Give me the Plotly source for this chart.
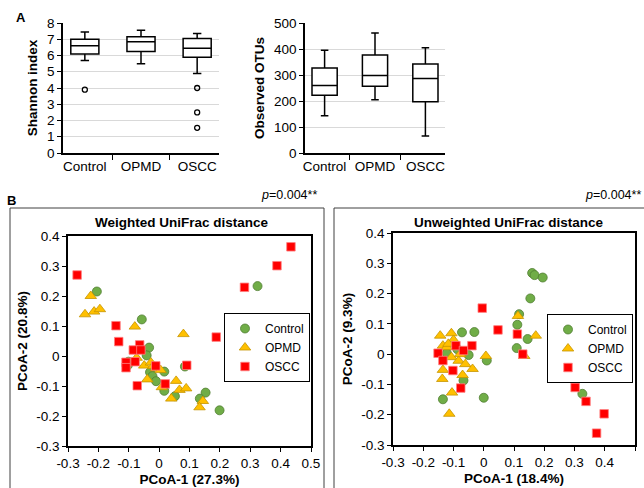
import plotly.graph_objects as go

W, H = 644, 488
FONT = "Liberation Sans, Arial, sans-serif"

# ---------------- Data ----------------
groups = ["Control", "OPMD", "OSCC"]

# Shannon index box statistics
shannon_lower = [5.7, 5.5, 4.9]
shannon_q1 = [6.1, 6.25, 5.9]
shannon_median = [6.6, 6.85, 6.45]
shannon_q3 = [7.0, 7.15, 7.05]
shannon_upper = [7.45, 7.55, 7.35]
shannon_outlier_group = ["Control", "OSCC", "OSCC", "OSCC"]
shannon_outlier_value = [3.9, 4.0, 2.5, 1.55]

# Observed OTUs box statistics
otu_lower = [143, 205, 65]
otu_q1 = [222, 257, 197]
otu_median = [260, 298, 287]
otu_q3 = [327, 377, 342]
otu_upper = [395, 462, 405]

# Weighted UniFrac PCoA
w_control_x = [-0.205, -0.057, 0.324, -0.033, -0.041, -0.101, -0.103, 0.017, -0.030,
               -0.022, -0.010, 0.017, 0.052, 0.085, 0.153, 0.134, 0.199]
w_control_y = [0.215, 0.122, 0.233, 0.028, 0.002, -0.019, -0.031, -0.052, -0.054,
               -0.067, -0.084, -0.116, -0.134, -0.035, -0.122, -0.142, -0.181]
w_opmd_x = [-0.225, -0.244, -0.214, -0.195, -0.080, 0.080, -0.074, -0.049, -0.027, -0.019,
            -0.010, 0.005, -0.039, 0.009, 0.056, 0.067, 0.089, 0.040, 0.144, 0.133]
w_opmd_y = [0.200, 0.139, 0.148, 0.156, 0.098, 0.073, -0.006, -0.032, -0.022, -0.033,
            -0.041, -0.047, -0.078, -0.104, -0.083, -0.113, -0.108, -0.142, -0.150, -0.171]
w_oscc_x = [-0.270, -0.142, -0.133, -0.064, -0.085, -0.060, -0.079, -0.109, -0.109,
            -0.011, -0.072, 0.020, 0.091, 0.188, 0.281, 0.388, 0.434]
w_oscc_y = [0.270, 0.101, 0.048, 0.037, 0.020, 0.020, -0.019, -0.021, -0.039,
            -0.033, -0.099, -0.093, -0.031, 0.063, 0.229, 0.301, 0.364]

# Unweighted UniFrac PCoA
u_control_x = [-0.072, -0.031, 0.111, 0.117, 0.154, 0.160, 0.168, 0.195, 0.145,
               0.109, -0.122, -0.087, -0.050, 0.010, -0.067, -0.135, 0.000, 0.326]
u_control_y = [0.072, 0.073, 0.097, 0.132, 0.184, 0.268, 0.261, 0.253, 0.050,
               0.020, 0.003, 0.016, -0.003, -0.021, -0.087, -0.149, -0.144, -0.131]
u_opmd_x = [-0.144, -0.107, -0.100, -0.135, -0.122, -0.117, -0.107, -0.083, -0.061, -0.078,
            0.007, 0.134, 0.113, 0.172, -0.135, -0.037, -0.070, -0.137, -0.105, -0.114]
u_opmd_y = [0.061, 0.069, 0.047, 0.028, 0.023, 0.034, -0.010, -0.022, -0.033, 0.000,
            -0.006, -0.006, 0.126, 0.061, -0.052, -0.049, -0.069, -0.082, -0.127, -0.197]
u_oscc_x = [-0.005, 0.047, 0.111, 0.129, -0.151, -0.135, -0.092, -0.067, -0.039,
            -0.102, -0.076, 0.302, 0.338, 0.398, 0.373]
u_oscc_y = [0.152, 0.080, 0.066, 0.000, 0.003, -0.021, 0.028, 0.012, 0.028,
            -0.054, -0.112, -0.110, -0.156, -0.197, -0.261]

pcoa_ticks = [-0.3, -0.2, -0.1, 0, 0.1, 0.2, 0.3, 0.4, 0.5]
pcoa_ticklabels = ["-0.3", "-0.2", "-0.1", "0", "0.1", "0.2", "0.3", "0.4", "0.5"]
pcoa_yticks = [-0.3, -0.2, -0.1, 0, 0.1, 0.2, 0.3, 0.4]
pcoa_yticklabels = ["-0.3", "-0.2", "-0.1", "0", "0.1", "0.2", "0.3", "0.4"]

# ---------------- helpers ----------------
def px(x):
    return x / W

def py(y):
    return 1 - y / H

fig = go.Figure()

box_style = dict(fillcolor="white", line=dict(color="black", width=1.5),
                 width=0.5, whiskerwidth=0.3, boxpoints=False, showlegend=False,
                 hoverinfo="skip")

fig.add_trace(go.Box(x=groups, q1=shannon_q1, median=shannon_median, q3=shannon_q3,
                     lowerfence=shannon_lower, upperfence=shannon_upper,
                     xaxis="x", yaxis="y", **box_style))
fig.add_trace(go.Scatter(x=shannon_outlier_group, y=shannon_outlier_value, mode="markers",
                         marker=dict(symbol="circle-open", size=5, color="black",
                                     line=dict(width=1.3, color="black")),
                         xaxis="x", yaxis="y", showlegend=False))
fig.add_trace(go.Box(x=groups, q1=otu_q1, median=otu_median, q3=otu_q3,
                     lowerfence=otu_lower, upperfence=otu_upper,
                     xaxis="x2", yaxis="y2", **box_style))

GREEN = "#70AD47"
GREEN_E = "#507E32"
YEL = "#FFC000"
YEL_E = "#C59400"
RED = "#FF0000"
RED_E = "#FF7F7F"

def mk(kind):
    if kind == "Control":
        return dict(symbol="circle", size=9, color=GREEN, line=dict(color=GREEN_E, width=0.8))
    if kind == "OPMD":
        return dict(symbol="triangle-up", size=10, color=YEL, line=dict(color=YEL_E, width=0.8))
    return dict(symbol="square", size=8.5, color=RED, line=dict(color=RED_E, width=0.8))

for name, xs, ys in [("Control", w_control_x, w_control_y),
                     ("OPMD", w_opmd_x, w_opmd_y),
                     ("OSCC", w_oscc_x, w_oscc_y)]:
    fig.add_trace(go.Scatter(x=xs, y=ys, mode="markers", name=name, marker=mk(name),
                             xaxis="x3", yaxis="y3", legend="legend"))

for name, xs, ys in [("Control", u_control_x, u_control_y),
                     ("OPMD", u_opmd_x, u_opmd_y),
                     ("OSCC", u_oscc_x, u_oscc_y)]:
    fig.add_trace(go.Scatter(x=xs, y=ys, mode="markers", name=name, marker=mk(name),
                             xaxis="x4", yaxis="y4", legend="legend2"))

tf = dict(family=FONT, size=13.5, color="black")
title_f = dict(family=FONT, size=13.5, color="black", weight="bold")

top_x = dict(type="category", categoryorder="array", categoryarray=groups,
             showline=True, linecolor="black", linewidth=1.5, ticks="outside",
             tickson="boundaries", ticklen=5, tickcolor="black", tickwidth=1.3,
             tickangle=0, showgrid=False, tickfont=tf, automargin=False)
top_y = dict(showline=True, linecolor="black", linewidth=1.5, ticks="outside",
             ticklen=4, tickcolor="black", tickwidth=1.3, showgrid=True,
             gridcolor="#D9D9D9", gridwidth=1, zeroline=False, tickfont=tf,
             automargin=False)

sc_x = dict(range=[-0.3, 0.5], tickvals=pcoa_ticks, ticktext=pcoa_ticklabels,
            showline=True, mirror=True, linecolor="black", linewidth=1.6,
            ticks="outside", ticklen=4, tickcolor="black", tickwidth=1.3, tickangle=0,
            showgrid=False, zeroline=False, tickfont=tf, automargin=False)
sc_y = dict(range=[-0.3, 0.4], tickvals=pcoa_yticks, ticktext=pcoa_yticklabels,
            showline=True, mirror=True, linecolor="black", linewidth=1.6,
            ticks="outside", ticklen=4, tickcolor="black", tickwidth=1.3,
            showgrid=False, zeroline=False, tickfont=tf, automargin=False)

legend_common = dict(bgcolor="white", bordercolor="black", borderwidth=1,
                     font=dict(family=FONT, size=12, color="black"),
                     xanchor="left", yanchor="top", tracegroupgap=0,
                     itemclick=False, itemdoubleclick=False)

def ann(text, x, y, size=13.5, xanchor="center"):
    return dict(text=text, x=px(x), y=py(y), xref="paper", yref="paper",
                xanchor=xanchor, yanchor="middle", showarrow=False,
                font=dict(family=FONT, size=size, color="black"))

fig.update_layout(
    width=W, height=H,
    margin=dict(l=0, r=0, t=0, b=0),
    paper_bgcolor="white", plot_bgcolor="white",
    font=dict(family=FONT, size=13.5, color="black"),
    xaxis=dict(domain=[px(63), px(219)], anchor="y", **top_x),
    yaxis=dict(domain=[py(153), py(23)], anchor="x", range=[0, 8], dtick=1,
               title=dict(text="Shannon index", font=title_f, standoff=6), **top_y),
    xaxis2=dict(domain=[px(305), px(445)], anchor="y2", **top_x),
    yaxis2=dict(domain=[py(153), py(23)], anchor="x2", range=[0, 500], dtick=100,
                title=dict(text="Observed OTUs", font=title_f, standoff=6), **top_y),
    xaxis3=dict(domain=[px(68), px(311)], anchor="y3",
                title=dict(text="PCoA-1 (27.3%)", font=title_f, standoff=5), **sc_x),
    yaxis3=dict(domain=[py(446), py(236)], anchor="x3",
                title=dict(text="PCoA-2 (20.8%)", font=title_f, standoff=6), **sc_y),
    xaxis4=dict(domain=[px(393), px(635)], anchor="y4",
                title=dict(text="PCoA-1 (18.4%)", font=title_f, standoff=5), **sc_x),
    yaxis4=dict(domain=[py(445), py(233)], anchor="x4",
                title=dict(text="PCoA-2 (9.3%)", font=title_f, standoff=6), **sc_y),
    legend=dict(x=px(224), y=py(313), **legend_common),
    legend2=dict(x=px(547), y=py(314), **legend_common),
    shapes=[
        dict(type="rect", xref="paper", yref="paper", x0=px(10), x1=px(324),
             y0=-0.2, y1=py(208), line=dict(color="#404040", width=1), layer="below"),
        dict(type="rect", xref="paper", yref="paper", x0=px(334), x1=1.2,
             y0=-0.2, y1=py(208), line=dict(color="#404040", width=1), layer="below"),
    ],
    annotations=[
        ann("<b>A</b>", 21, 18, 13),
        ann("<b>B</b>", 11, 200, 13),
        ann("<i>p</i>=0.004**", 319, 195, 12.5, "right"),
        ann("<i>p</i>=0.004**", 643, 195, 12.5, "right"),
        ann("<b>Weighted UniFrac distance</b>", 182, 222),
        ann("<b>Unweighted UniFrac distance</b>", 509, 222),
    ],
)

fig.write_html("out.html", config={"displayModeBar": False},
               post_script="document.body.style.margin='0';")
